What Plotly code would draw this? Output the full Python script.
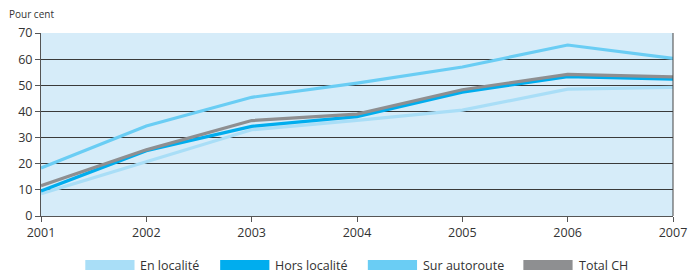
import plotly.graph_objects as go

years = [2001, 2002, 2003, 2004, 2005, 2006, 2007]
en_localite = [8.5, 20.8, 33.0, 36.6, 40.5, 48.5, 49.2]
hors_localite = [9.6, 25.0, 34.3, 38.0, 47.4, 53.3, 52.3]
sur_autoroute = [18.4, 34.4, 45.4, 50.8, 57.0, 65.4, 60.3]
total_ch = [11.6, 25.3, 36.5, 39.0, 48.3, 54.2, 53.2]

series_names = ["En localité", "Hors localité", "Sur autoroute", "Total CH"]
series_values = [en_localite, hors_localite, sur_autoroute, total_ch]
colors = ["#a9def7", "#00adee", "#6acdf4", "#8e8f91"]

y_ticks = [0, 10, 20, 30, 40, 50, 60, 70]
x_ticks = years

FONT = "Open Sans"

fig = go.Figure()
for name, vals, col in zip(series_names, series_values, colors):
    fig.add_trace(go.Scatter(x=years, y=vals, name=name, mode="lines",
                             line=dict(color=col, width=3.2), showlegend=False))

# custom legend: wide swatches
leg_x0 = [86, 223, 373, 531]
W, H = 699, 272
l, r, t, b = 41, 16, 33, 56
pw = W - l - r
ph = H - t - b
for name, col, px in zip(series_names, colors, leg_x0):
    x0 = (px - l) / pw
    x1 = (px + 50 - l) / pw
    yc = (216 - 265) / ph
    fig.add_shape(type="rect", xref="paper", yref="paper", x0=x0, x1=x1,
                  y0=yc - 5 / ph, y1=yc + 5 / ph, fillcolor=col, line=dict(width=0))
    fig.add_annotation(xref="paper", yref="paper", x=(px + 54 - l) / pw, y=yc,
                       text=name, showarrow=False, xanchor="left", yanchor="middle",
                       font=dict(family=FONT, size=12.5, color="#333333"))

fig.add_annotation(xref="paper", yref="paper", x=(6 - l) / pw, y=(216 - 14) / ph,
                   text="Pour cent", showarrow=False, xanchor="left", yanchor="middle",
                   font=dict(family=FONT, size=10, color="#333333"))

fig.update_layout(
    width=W, height=H,
    margin=dict(l=l, r=r, t=t, b=b, pad=0),
    paper_bgcolor="white",
    plot_bgcolor="#d6ecf9",
    font=dict(family=FONT, size=12.5, color="#333333"),
    xaxis=dict(range=[2001, 2007], tickvals=x_ticks, ticktext=[str(v) for v in x_ticks],
               showgrid=False, zeroline=False, showline=True, linecolor="#555555",
               linewidth=1, ticks="outside", ticklen=5, tickcolor="#555555",
               mirror=False, fixedrange=True),
    yaxis=dict(range=[0, 70], tickvals=y_ticks, showgrid=True, gridcolor="#3a3a3a",
               gridwidth=1, zeroline=False, showline=True, linecolor="#555555",
               linewidth=1, ticks="outside", ticklen=5, tickcolor="#555555",
               fixedrange=True),
)
# right border of plot area
fig.add_shape(type="line", xref="paper", yref="paper", x0=1, x1=1, y0=0, y1=1,
              line=dict(color="#444444", width=1))

fig.write_html("out.html", config={"displayModeBar": False},
               post_script="document.body.style.margin='0px';document.body.style.padding='0px';")
